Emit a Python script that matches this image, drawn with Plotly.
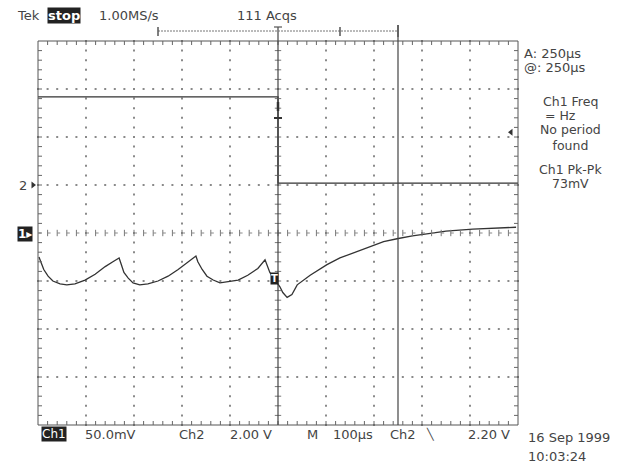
import plotly.graph_objects as go

ch1_time_us = [-498, -494, -488, -479, -469, -454, -440, -423, -402, -381, -360, -344, -331,
               -327, -321, -312, -302, -288, -271, -250, -229, -208, -188, -171,
               -167, -158, -148, -135, -121, -104, -83, -63, -42, -27,
               -23, -17, -6, 4, 10, 19, 29, 40, 67, 102, 129, 156, 192, 220, 248, 280, 310,
               350, 406, 450, 496]
ch1_mv = [-25, -30, -38, -45, -50, -53, -54, -53, -49, -43, -35, -30, -26,
          -32, -41, -47, -52, -54, -53, -50, -45, -38, -30, -24,
          -30, -38, -45, -49, -52, -51, -49, -44, -37, -28,
          -34, -41, -49, -56, -62, -67, -64, -54, -44, -33, -26, -21, -14, -9, -6, -3, -1,
          2, 4, 5, 6]
ch2_time_us = [-500, 0, 0, 500]
ch2_volts = [3.67, 3.67, 0.08, 0.08]

ch1_scale_mv = 50.0      # mV/div
ch2_scale_v = 2.0        # V/div
ch1_offset_div = 0.0
ch2_offset_div = 1.0
time_per_div_us = 100.0
cursor_times_us = [0, 250]
trig_level_v = 2.20

# ---------------- geometry helpers ----------------
W, H = 638, 463
PX_PER_DIV = 48.0


def px2t(px):
    return (px - 278) * time_per_div_us / PX_PER_DIV


def py2d(py):
    return (233 - py) / PX_PER_DIV


INK = "#333333"
GRID = "#8a8a8a"

fig = go.Figure()

# grid dots along division lines
gx, gy = [], []
for k in range(-4, 5):
    if k == 0:
        continue
    t = k * time_per_div_us
    for j in range(0, 41):
        gx.append(t)
        gy.append(-4 + j * 0.2)
for k in range(-3, 4):
    if k == 0:
        continue
    for j in range(0, 51):
        gx.append(-500 + j * 20)
        gy.append(k)
fig.add_trace(go.Scatter(x=gx, y=gy, mode="markers",
                         marker=dict(symbol="square", size=2, color=GRID, line=dict(width=0)),
                         hoverinfo="skip", showlegend=False))

shapes = []
# frame
shapes.append(dict(type="rect", xref="x", yref="y", x0=-500, x1=500, y0=-4, y1=4,
                   line=dict(color="#555555", width=1)))
# frame ticks (inward)
tl_t = 4 * time_per_div_us / PX_PER_DIV
tl_d = 4 / PX_PER_DIV
for j in range(1, 50):
    t = -500 + j * 20
    shapes.append(dict(type="line", xref="x", yref="y", x0=t, x1=t, y0=4, y1=4 - tl_d,
                       line=dict(color="#666666", width=1)))
    shapes.append(dict(type="line", xref="x", yref="y", x0=t, x1=t, y0=-4, y1=-4 + tl_d,
                       line=dict(color="#666666", width=1)))
    # center horizontal cross ticks
    shapes.append(dict(type="line", xref="x", yref="y", x0=t, x1=t, y0=-tl_d * 0.8, y1=tl_d * 0.8,
                       line=dict(color="#777777", width=1)))
for j in range(1, 40):
    d = -4 + j * 0.2
    shapes.append(dict(type="line", xref="x", yref="y", x0=-500, x1=-500 + tl_t, y0=d, y1=d,
                       line=dict(color="#666666", width=1)))
    shapes.append(dict(type="line", xref="x", yref="y", x0=500, x1=500 - tl_t, y0=d, y1=d,
                       line=dict(color="#666666", width=1)))
    shapes.append(dict(type="line", xref="x", yref="y", x0=-tl_t * 0.8, x1=tl_t * 0.8, y0=d, y1=d,
                       line=dict(color="#777777", width=1)))
# center horizontal dashed line
shapes.append(dict(type="line", xref="x", yref="y", x0=-500, x1=500, y0=0, y1=0,
                   line=dict(color="#888888", width=1, dash="3px,6.6px")))
# cursor lines
for ct, top in zip(cursor_times_us, [27, 25]):
    shapes.append(dict(type="line", xref="x", yref="y", x0=ct, x1=ct, y0=-4, y1=py2d(top),
                       line=dict(color="#444444", width=1.2)))
# top record ruler
shapes.append(dict(type="line", xref="x", yref="y", x0=px2t(158), x1=px2t(398),
                   y0=py2d(31), y1=py2d(31), line=dict(color="#777777", width=1, dash="2px,1px")))
for bx, a, b in [(158, 27, 36), (340, 27, 36), (398, 25, 37)]:
    shapes.append(dict(type="line", xref="x", yref="y", x0=px2t(bx), x1=px2t(bx),
                       y0=py2d(a), y1=py2d(b), line=dict(color="#555555", width=1.5)))
shapes.append(dict(type="line", xref="x", yref="y", x0=px2t(274), x1=px2t(282),
                   y0=py2d(27), y1=py2d(27), line=dict(color="#555555", width=1.2)))
# small marks on the t=0 cursor
shapes.append(dict(type="line", xref="x", yref="y", x0=px2t(274), x1=px2t(282),
                   y0=py2d(118), y1=py2d(118), line=dict(color="#333333", width=2)))
shapes.append(dict(type="line", xref="x", yref="y", x0=0, x1=0,
                   y0=py2d(102), y1=py2d(111), line=dict(color="#333333", width=2.5)))

# ---------------- waveforms ----------------
fig.add_trace(go.Scatter(x=ch2_time_us, y=[v / ch2_scale_v + ch2_offset_div for v in ch2_volts],
                         mode="lines", line=dict(color=INK, width=1.4), hoverinfo="skip",
                         showlegend=False))
fig.add_trace(go.Scatter(x=ch1_time_us, y=[v / ch1_scale_mv + ch1_offset_div for v in ch1_mv],
                         mode="lines", line=dict(color=INK, width=1.3), hoverinfo="skip",
                         showlegend=False))

# markers: ch2 ground arrow, trigger level arrow
fig.add_trace(go.Scatter(x=[px2t(33)], y=[ch2_offset_div], mode="markers",
                         marker=dict(symbol="triangle-right", size=6, color=INK),
                         hoverinfo="skip", showlegend=False))
fig.add_trace(go.Scatter(x=[px2t(511)], y=[trig_level_v / ch2_scale_v + ch2_offset_div],
                         mode="markers", marker=dict(symbol="triangle-left", size=6, color=INK),
                         hoverinfo="skip", showlegend=False))

# ---------------- text ----------------
FONT = "DejaVu Sans"
ann = []


def txt(s, px, py, size=13, anchor="left", color="#444444", bg=None, bold=False):
    d = dict(text=("<b>%s</b>" % s) if bold else s, xref="paper", yref="paper",
             x=px / W, y=1 - py / H, xanchor=anchor, yanchor="middle", showarrow=False,
             font=dict(family=FONT, size=size, color=color))
    if bg:
        d["bgcolor"] = bg
        d["borderpad"] = 0
    ann.append(d)


txt("Tek", 15, 16)
txt("stop", 47, 16, bg="#222222", color="white", bold=True)
txt("1.00MS/s", 97, 16)
txt("111 Acqs", 235, 16)

txt("A: 250µs", 522, 53)
txt("@: 250µs", 522, 68)
txt("Ch1 Freq", 570, 101, anchor="center", size=12.5)
txt("= Hz", 560, 115, anchor="center", size=12.5)
txt("No period<br>found", 570, 137, anchor="center", size=12.5)
txt("Ch1 Pk-Pk", 570, 169, anchor="center", size=12.5)
txt("73mV", 570, 183, anchor="center", size=12.5)

txt("2", 17, 186)
txt("1▸", 17, 234, bg="#222222", color="white", bold=True, size=12)
txt("T", 270, 278, bg="#222222", color="white", bold=True, size=10)

txt("Ch1", 41, 434, bg="#222222", color="white", size=12)
txt("50.0mV", 83, 434)
txt("Ch2", 177, 434)
txt("2.00 V", 228, 434)
txt("M", 305, 434)
txt("100µs", 331, 434)
txt("Ch2", 388, 434)
txt("╲", 424, 434, size=11)
txt("2.20 V", 466, 434)
txt("16 Sep 1999", 526, 437)
txt("10:03:24", 526, 456)

fig.update_layout(
    width=W, height=H, margin=dict(l=0, r=0, t=0, b=0),
    paper_bgcolor="white", plot_bgcolor="white",
    xaxis=dict(range=[px2t(0), px2t(W)], visible=False, fixedrange=True),
    yaxis=dict(range=[py2d(H), py2d(0)], visible=False, fixedrange=True),
    shapes=shapes, annotations=ann, showlegend=False,
)

fig.write_html("out.html", config={"displayModeBar": False},
               post_script="document.body.style.margin='0';document.body.style.overflow='hidden';")
